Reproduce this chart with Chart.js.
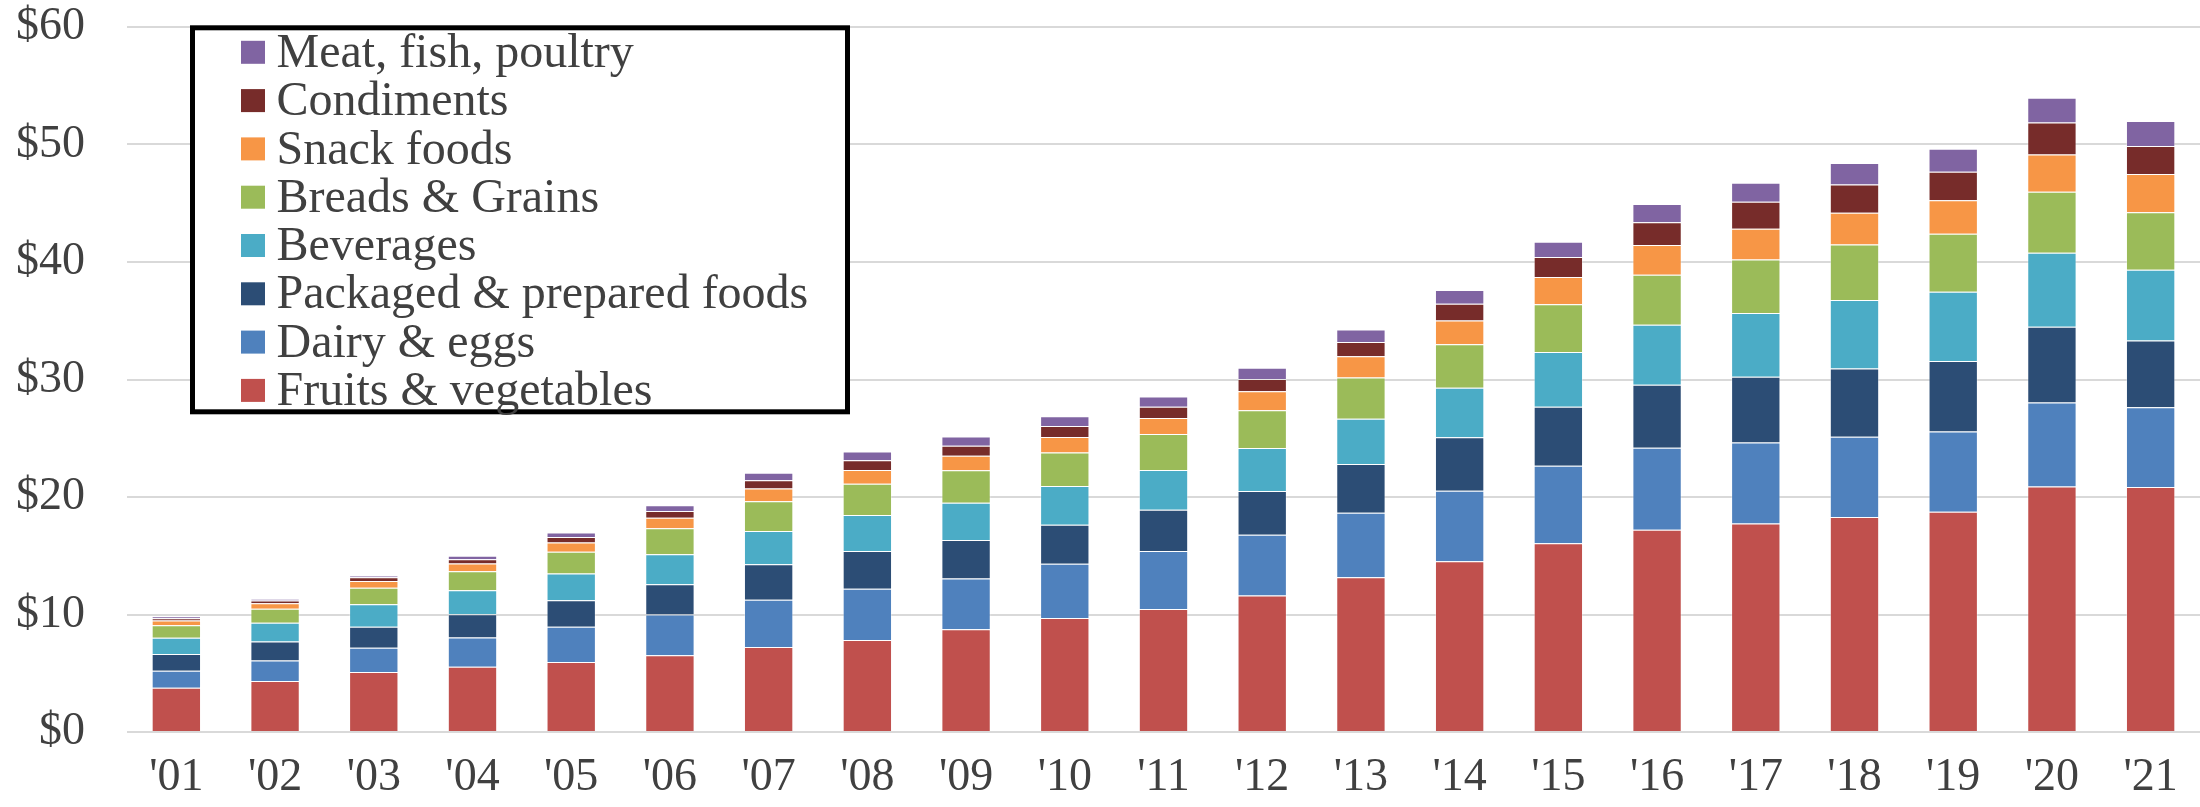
<!DOCTYPE html>
<html>
<head>
<meta charset="utf-8">
<title>Food spending by category</title>
<script src="https://cdn.jsdelivr.net/npm/chart.js@4/dist/chart.umd.min.js"></script>
<style>
	html, body { margin: 0; padding: 0; background: #fff; }
	#wrap { width: 2200px; height: 807px; }
</style>
</head>
<body>
<div id="wrap"><canvas id="spendChart" width="2200" height="807"></canvas></div>
<script>
const years = ["'01", "'02", "'03", "'04", "'05", "'06", "'07", "'08", "'09", "'10", "'11",
	"'12", "'13", "'14", "'15", "'16", "'17", "'18", "'19", "'20", "'21"];

// dollars per category, stacked bottom to top
const fruitsVeg = [3.77, 4.33, 5.10, 5.55, 5.95, 6.54, 7.23, 7.84, 8.74, 9.71, 10.47, 11.62, 13.16, 14.53, 16.07, 17.21, 17.74, 18.30, 18.75, 20.90, 20.86];
const dairyEggs = [1.44, 1.76, 2.07, 2.50, 3.00, 3.46, 4.03, 4.35, 4.33, 4.60, 4.93, 5.17, 5.51, 6.01, 6.58, 6.98, 6.89, 6.82, 6.82, 7.14, 6.78];
const packaged = [1.42, 1.62, 1.78, 1.98, 2.27, 2.58, 3.02, 3.21, 3.27, 3.33, 3.51, 3.72, 4.14, 4.54, 5.03, 5.36, 5.61, 5.81, 6.00, 6.46, 5.68];
const beverages = [1.39, 1.58, 1.93, 2.04, 2.26, 2.55, 2.82, 3.06, 3.18, 3.30, 3.39, 3.67, 3.85, 4.22, 4.67, 5.11, 5.43, 5.84, 5.89, 6.29, 6.01];
const breads = [1.07, 1.19, 1.39, 1.61, 1.87, 2.21, 2.54, 2.66, 2.75, 2.84, 3.06, 3.20, 3.51, 3.70, 4.05, 4.26, 4.55, 4.71, 4.95, 5.19, 4.91];
const snacks = [0.40, 0.48, 0.59, 0.65, 0.77, 0.90, 1.09, 1.18, 1.24, 1.33, 1.36, 1.61, 1.81, 2.02, 2.32, 2.52, 2.60, 2.72, 2.84, 3.17, 3.24];
const condiments = [0.20, 0.23, 0.31, 0.37, 0.48, 0.57, 0.69, 0.82, 0.85, 0.94, 0.97, 1.06, 1.21, 1.42, 1.70, 1.94, 2.31, 2.39, 2.44, 2.72, 2.40];
const meat = [0.14, 0.14, 0.14, 0.29, 0.37, 0.48, 0.64, 0.75, 0.78, 0.82, 0.87, 0.96, 1.06, 1.18, 1.30, 1.55, 1.62, 1.83, 1.94, 2.11, 2.11];

const yTicks = [0, 10, 20, 30, 40, 50, 60];

const series = [
	{ label: "Fruits & vegetables", data: fruitsVeg, color: "#C0504D" },
	{ label: "Dairy & eggs", data: dairyEggs, color: "#4F81BD" },
	{ label: "Packaged & prepared foods", data: packaged, color: "#2C4D75" },
	{ label: "Beverages", data: beverages, color: "#4BACC6" },
	{ label: "Breads & Grains", data: breads, color: "#9BBB59" },
	{ label: "Snack foods", data: snacks, color: "#F79646" },
	{ label: "Condiments", data: condiments, color: "#772C2A" },
	{ label: "Meat, fish, poultry", data: meat, color: "#8064A2" },
];

const textColor = "#404040";
const fontFamily = "'Liberation Serif', 'Times New Roman', serif";

// boxed legend drawn inside the plot, top item = last series
const boxLegend = {
	id: "boxLegend",
	afterDraw(chart) {
		const ctx = chart.ctx;
		const area = chart.chartArea;
		const x = area.left + 65.5;
		const y = area.top + 0.8;
		const w = 655;
		const h = 384;
		ctx.save();
		ctx.fillStyle = "#fff";
		ctx.fillRect(x, y, w, h);
		ctx.lineWidth = 5;
		ctx.strokeStyle = "#000";
		ctx.strokeRect(x, y, w, h);

		ctx.font = "48px " + fontFamily;
		ctx.textBaseline = "middle";
		ctx.textAlign = "left";
		const items = chart.data.datasets.slice().reverse();
		items.forEach((ds, i) => {
			const cy = y + 24.5 + i * 48.3;
			ctx.fillStyle = ds.backgroundColor;
			ctx.fillRect(x + 48.5, cy - 11.5, 24, 23);
			ctx.fillStyle = textColor;
			ctx.fillText(ds.label, x + 84, cy + 2);
		});
		ctx.restore();
	},
};

const ctx = document.getElementById("spendChart").getContext("2d");
const spendChart = new Chart(ctx, {
	type: "bar",
	data: {
		labels: years,
		datasets: series.map((s) => ({
			label: s.label,
			data: s.data,
			backgroundColor: s.color,
			borderColor: "rgba(255,255,255,0.35)",
			borderWidth: 1,
			barPercentage: 0.5,
			categoryPercentage: 1,
		})),
	},
	options: {
		responsive: false,
		devicePixelRatio: 1,
		animation: false,
		layout: { padding: { top: 27, right: 0, bottom: 0, left: 0 } },
		plugins: {
			legend: { display: false },
			tooltip: { enabled: false },
		},
		scales: {
			x: {
				stacked: true,
				grid: { display: false, drawTicks: false },
				border: { display: false },
				ticks: {
					color: textColor,
					font: { family: fontFamily, size: 46, lineHeight: 1 },
					padding: 23,
					maxRotation: 0,
					autoSkip: false,
				},
				afterFit(scale) {
					scale.height = 75;
					scale.paddingLeft = 0;
					scale.paddingRight = 0;
				},
			},
			y: {
				stacked: true,
				min: 0,
				max: 60,
				afterBuildTicks(scale) {
					scale.ticks = yTicks.map((v) => ({ value: v }));
				},
				grid: { color: "#D9D9D9", lineWidth: 2, drawTicks: false },
				border: { display: false },
				ticks: {
					color: textColor,
					font: { family: fontFamily, size: 46, lineHeight: 1 },
					padding: 42,
					callback: (v) => "$" + v,
				},
				afterFit(scale) {
					scale.width = 127;
					// let the top label overhang the padding instead of pushing the plot down
					scale.paddingTop = 0;
					scale.paddingBottom = 0;
				},
			},
		},
	},
	plugins: [boxLegend],
});
</script>
</body>
</html>
